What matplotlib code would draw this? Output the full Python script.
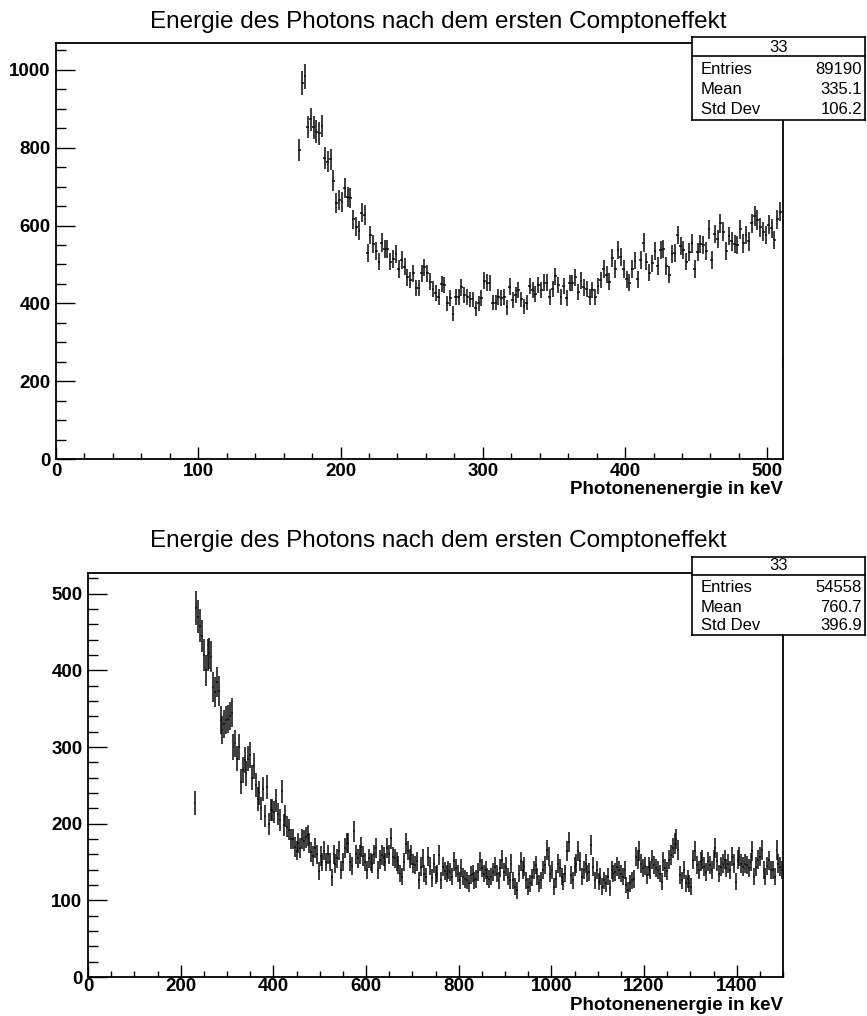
import numpy as np
import matplotlib
matplotlib.use("Agg")
import matplotlib.pyplot as plt
from matplotlib.ticker import MultipleLocator

plt.rcParams['font.family'] = ['Liberation Sans', 'DejaVu Sans']

W, H = 867, 1016
TITLE = "Energie des Photons nach dem ersten Comptoneffekt"
XLABEL = "Photonenenergie in keV"
STAT_NAMES = ["Entries", "Mean", "Std Dev"]

# Upper histogram: 2 keV bins, first filled bin begins at 170 keV
top_bin_width = 2.0
top_first_edge = 170.0
top_counts = [
    794, 967, 983, 853, 873, 852, 841, 837, 856, 773,
    764, 770, 715, 659, 666, 661, 696, 674, 670, 616,
    597, 587, 633, 627, 530, 576, 552, 535, 507, 556,
    539, 539, 507, 514, 527, 488, 512, 494, 467, 460,
    477, 439, 439, 477, 493, 477, 456, 436, 426, 416,
    450, 447, 400, 413, 373, 416, 417,
    441, 422, 417, 410, 410, 387, 400, 413, 458, 453,
    452, 402, 402, 416, 413, 417, 390, 443, 409, 422,
    434, 410, 392, 402, 445, 434, 424, 447, 434, 453,
    453, 417, 436, 469, 447, 416, 445, 413, 452, 452,
    467, 430, 458, 441, 436, 417, 434, 417, 445, 460,
    488, 473, 456,
    516, 488, 537, 520, 488, 462, 453, 488, 510, 462,
    512, 556, 507, 479, 503, 535, 496, 537, 539, 496,
    473, 527, 529, 576, 548, 537, 507, 533, 554, 488,
    533, 553, 550, 535, 590, 512, 578, 565, 606, 584,
    535, 573, 559, 553, 550, 590, 554, 576, 559, 606,
    625, 614, 596, 584, 576, 602, 593, 563, 616, 636,
    250,
]
top_stats = ["33", "89190", "335.1", "106.2"]

# Lower histogram: 4 keV bins, first filled bin begins at 228 keV
bot_bin_width = 4.0
bot_first_edge = 228.0
bot_counts = [
    227, 481, 470, 458, 445, 420, 400, 420, 422, 418,
    378, 372, 385, 373, 335, 322, 330, 335, 337, 340,
    345, 300, 305, 285, 300, 255, 270, 283, 265, 285,
    290, 260, 275, 250, 232, 240, 220, 245, 210, 248,
    200, 218, 218, 215, 230, 213, 205, 242, 198, 210,
    196, 192, 180, 180, 170, 165, 175, 168, 180, 178,
    182, 185, 175, 163, 158, 168, 160, 138, 158, 150,
    165, 150, 160, 150, 130, 160, 148, 155, 165, 140,
    150, 168, 175, 175, 150, 145, 190, 160, 155, 160,
    170, 158, 150, 140, 155, 150, 148, 160, 168, 140,
    153, 159, 157, 150, 168, 160, 181, 157, 155, 151,
    146, 135, 131, 150, 174, 165, 155, 159, 148, 146,
    151, 126, 144, 155, 135, 131, 157, 145, 129, 148,
    133, 135, 159, 126, 144, 138, 135, 139, 137, 131,
    151, 142, 135, 126, 142, 131, 128, 126, 122, 133,
    135, 126, 128, 137, 151, 142, 135, 139, 131, 128,
    131, 137, 144, 135, 126, 142, 153, 137, 144, 131,
    126, 148, 126, 118, 113, 135, 151, 139, 144, 126,
    118, 122, 130, 139, 146, 131, 122, 126, 139, 146,
    166, 157, 135, 140, 118, 128, 148, 142, 131, 124,
    135, 164, 176, 133, 126, 144, 148, 164, 151, 131,
    139, 148, 135, 137, 172, 144, 126, 139, 124, 131,
    118, 126, 122, 131, 116, 139, 135, 137, 144, 139,
    135, 131, 139, 120, 113, 122, 126, 128, 157, 153,
    164, 148, 142, 145, 133, 144, 139, 153, 146, 142,
    140, 135, 124, 151, 142, 138, 153, 159, 168, 174,
    180, 166, 133, 126, 139, 122, 128, 122, 118, 153,
    164, 146, 139, 151, 153, 144, 137, 151, 146, 139,
    153, 168, 151, 135, 144, 148, 153, 142, 148, 139,
    157, 148, 124, 153, 157, 148, 144, 148, 146, 142,
    150, 164, 131, 144, 153, 157, 166, 139, 131, 145,
    152, 140, 139, 131, 166, 148, 144, 140,
]
bot_stats = ["33", "54558", "760.7", "396.9"]

fig = plt.figure(figsize=(W / 100, H / 100), dpi=100)
fig.patch.set_facecolor("white")


def rect_px(left, top, right, bottom):
    return [left / W, 1 - bottom / H, (right - left) / W, (bottom - top) / H]


def fx(x):
    return x / W


def fy(y):
    return 1 - y / H


def draw_hist(frame, counts, first_edge, width, xlim, ylim,
              xmajor, xminor, ymajor, yminor, ytick_len, xpad):
    ax = fig.add_axes(rect_px(*frame))
    n = np.asarray(counts, dtype=float)
    centers = first_edge + width * (np.arange(n.size) + 0.5)
    ax.errorbar(centers, n, yerr=np.sqrt(n), xerr=width / 2, fmt="none",
                ecolor="#111111", elinewidth=1.15, capsize=0)
    ax.set_xlim(*xlim)
    ax.set_ylim(*ylim)
    ax.xaxis.set_major_locator(MultipleLocator(xmajor))
    ax.xaxis.set_minor_locator(MultipleLocator(xminor))
    ax.yaxis.set_major_locator(MultipleLocator(ymajor))
    ax.yaxis.set_minor_locator(MultipleLocator(yminor))
    ax.tick_params(axis="x", which="major", direction="in", length=8.5,
                   width=1.0, pad=xpad, labelsize=13.5)
    ax.tick_params(axis="x", which="minor", direction="in", length=4.3,
                   width=1.0)
    ax.tick_params(axis="y", which="major", direction="in", length=ytick_len,
                   width=1.0, pad=4, labelsize=13.5)
    ax.tick_params(axis="y", which="minor", direction="in",
                   length=ytick_len / 2, width=1.0)
    for lab in ax.get_xticklabels() + ax.get_yticklabels():
        lab.set_fontweight("bold")
    for sp in ax.spines.values():
        sp.set_linewidth(1.3)
    return ax


def draw_stats(box, header_line, rows_y, header_y, values):
    left, top, right, bottom = box
    sax = fig.add_axes(rect_px(left, top, right, bottom))
    sax.set_zorder(5)
    sax.set_facecolor("white")
    sax.set_xticks([])
    sax.set_yticks([])
    for sp in sax.spines.values():
        sp.set_linewidth(1.2)
    fig.add_artist(plt.Line2D([fx(left), fx(right)],
                              [fy(header_line), fy(header_line)],
                              color="black", lw=1.2, zorder=6))
    fig.text(fx((left + right) / 2), fy(header_y), values[0], ha="center",
             va="center", fontsize=12, zorder=7)
    for name, val, yy in zip(STAT_NAMES, values[1:], rows_y):
        fig.text(fx(left + 9), fy(yy), name, ha="left", va="center",
                 fontsize=12, zorder=7)
        fig.text(fx(right - 3), fy(yy), val, ha="right", va="center",
                 fontsize=12, zorder=7)


# upper panel
draw_hist((56, 43, 783, 459), top_counts, top_first_edge, top_bin_width,
          (0, 511), (0, 1069), 100, 20, 200, 50, 14, 3)
fig.text(fx(438), fy(22), TITLE, ha="center", va="center", fontsize=17.5)
fig.text(fx(783), fy(490), XLABEL, ha="right", va="center", fontsize=13.5,
         fontweight="bold")
draw_stats((692, 37, 865, 120), 56, (69, 90, 110), 48, top_stats)

# lower panel
draw_hist((88, 573, 783, 977), bot_counts, bot_first_edge, bot_bin_width,
          (0, 1500), (0, 527), 200, 50, 100, 20, 14, 0.8)
fig.text(fx(438), fy(541), TITLE, ha="center", va="center", fontsize=17.5)
fig.text(fx(783), fy(1006), XLABEL, ha="right", va="center", fontsize=13.5,
         fontweight="bold")
draw_stats((692, 557, 865, 635), 575, (588, 607, 625), 566, bot_stats)

fig.savefig("out.png", dpi=100, facecolor="white")
